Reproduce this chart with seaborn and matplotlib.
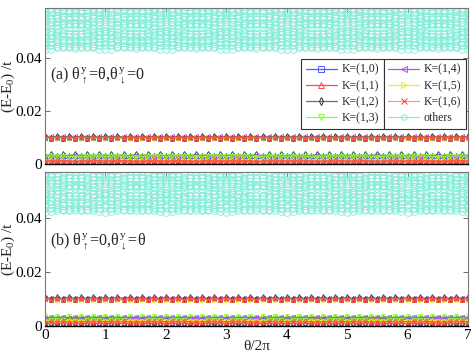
import numpy as np
import matplotlib
matplotlib.use("Agg")
import matplotlib.pyplot as plt
import seaborn as sns
from matplotlib.lines import Line2D

# ── 1. Data (energies in units of 1e-3 t, one flux period, θ/2π = 0.0 .. 0.9) ──
n_periods = 7
theta_step = 0.1

# panel (a): "others" band
a_o1 = [43.4, 43.6, 44.0, 44.3, 44.6, 44.7, 44.6, 44.3, 44.0, 43.6]
a_o2 = [45.2, 45.0, 44.7, 44.4, 44.1, 43.9, 44.1, 44.4, 44.7, 45.0]
a_o3 = [46.0, 46.2, 46.5, 46.8, 47.0, 47.1, 47.0, 46.8, 46.5, 46.2]
a_o4 = [47.6, 47.4, 47.2, 46.9, 46.6, 46.5, 46.6, 46.9, 47.2, 47.4]
a_o5 = [48.5, 48.6, 48.8, 49.0, 49.1, 49.2, 49.1, 49.0, 48.8, 48.6]
a_o6 = [50.3, 50.0, 49.6, 49.3, 49.1, 49.0, 49.1, 49.3, 49.6, 50.0]
a_o7 = [50.3, 50.6, 51.0, 51.4, 51.7, 51.8, 51.7, 51.4, 51.0, 50.6]
a_o8 = [52.3, 52.4, 52.6, 52.8, 52.9, 53.0, 52.9, 52.8, 52.6, 52.4]
a_o9 = [54.0, 53.8, 53.6, 53.4, 53.3, 53.2, 53.3, 53.4, 53.6, 53.8]
a_o10 = [54.6, 54.8, 55.1, 55.4, 55.6, 55.7, 55.6, 55.4, 55.1, 54.8]
a_o11 = [56.5, 56.3, 56.0, 55.8, 55.6, 55.5, 55.6, 55.8, 56.0, 56.3]
a_o12 = [57.2, 57.4, 57.7, 58.0, 58.2, 58.3, 58.2, 58.0, 57.7, 57.4]
a_o13 = [58.8, 58.6, 58.4, 58.1, 57.9, 57.8, 57.9, 58.1, 58.4, 58.6]

# panel (b): "others" band
b_o1 = [42.2, 42.4, 42.8, 43.1, 43.4, 43.5, 43.4, 43.1, 42.8, 42.4]
b_o2 = [44.0, 43.8, 43.5, 43.2, 42.9, 42.8, 42.9, 43.2, 43.5, 43.8]
b_o3 = [44.8, 45.0, 45.3, 45.6, 45.8, 45.9, 45.8, 45.6, 45.3, 45.0]
b_o4 = [46.5, 46.3, 46.0, 45.7, 45.5, 45.4, 45.5, 45.7, 46.0, 46.3]
b_o5 = [47.3, 47.4, 47.6, 47.8, 48.0, 48.1, 48.0, 47.8, 47.6, 47.4]
b_o6 = [49.4, 49.1, 48.7, 48.4, 48.2, 48.1, 48.2, 48.4, 48.7, 49.1]
b_o7 = [49.4, 49.7, 50.1, 50.5, 50.8, 50.9, 50.8, 50.5, 50.1, 49.7]
b_o8 = [51.3, 51.4, 51.6, 51.8, 51.9, 52.0, 51.9, 51.8, 51.6, 51.4]
b_o9 = [53.0, 52.8, 52.6, 52.4, 52.3, 52.2, 52.3, 52.4, 52.6, 52.8]
b_o10 = [53.6, 53.8, 54.1, 54.4, 54.6, 54.7, 54.6, 54.4, 54.1, 53.8]
b_o11 = [55.5, 55.3, 55.0, 54.8, 54.6, 54.5, 54.6, 54.8, 55.0, 55.3]
b_o12 = [56.2, 56.4, 56.7, 57.0, 57.2, 57.3, 57.2, 57.0, 56.7, 56.4]

# panel (a): low-lying K states (upper line near 0.01, two lines near 0)
a_k10_hi = [9.8, 9.5, 9.8, 9.5, 9.8, 9.5, 9.8, 9.5, 9.8, 9.5]
a_k10_lo1 = [0.8, 0.9, 1.0, 1.0, 0.9, 0.8, 0.9, 1.0, 1.0, 0.9]
a_k10_lo2 = [2.0, 1.9, 1.9, 2.0, 2.1, 2.1, 2.0, 1.9, 1.9, 2.0]
a_k11_hi = [10.3, 9.9, 10.3, 9.9, 10.3, 9.9, 10.3, 9.9, 10.3, 9.9]
a_k11_lo1 = [2.6, 2.9, 2.6, 2.9, 2.6, 2.9, 2.6, 2.9, 2.6, 2.9]
a_k11_lo2 = [1.2, 1.3, 1.4, 1.3, 1.2, 1.1, 1.2, 1.3, 1.4, 1.3]
a_k12_hi = [10.6, 10.0, 10.6, 10.0, 10.6, 10.0, 10.6, 10.0, 10.6, 10.0]
a_k12_lo1 = [3.2, 3.6, 3.2, 3.6, 3.2, 3.6, 3.2, 3.6, 3.2, 3.6]
a_k12_lo2 = [0.4, 0.6, 0.4, 0.6, 0.4, 0.6, 0.4, 0.6, 0.4, 0.6]
a_k13_hi = [9.4, 9.7, 9.4, 9.7, 9.4, 9.7, 9.4, 9.7, 9.4, 9.7]
a_k13_lo1 = [1.6, 1.5, 1.5, 1.6, 1.7, 1.7, 1.6, 1.5, 1.5, 1.6]
a_k13_lo2 = [2.9, 3.0, 3.1, 3.0, 2.9, 2.8, 2.9, 3.0, 3.1, 3.0]
a_k14_hi = [10.2, 10.4, 10.2, 10.4, 10.2, 10.4, 10.2, 10.4, 10.2, 10.4]
a_k14_lo1 = [1.0, 1.2, 1.0, 1.2, 1.0, 1.2, 1.0, 1.2, 1.0, 1.2]
a_k14_lo2 = [3.0, 3.3, 3.0, 3.3, 3.0, 3.3, 3.0, 3.3, 3.0, 3.3]
a_k15_hi = [9.8, 10.1, 9.8, 10.1, 9.8, 10.1, 9.8, 10.1, 9.8, 10.1]
a_k15_lo1 = [2.2, 2.4, 2.2, 2.4, 2.2, 2.4, 2.2, 2.4, 2.2, 2.4]
a_k15_lo2 = [1.5, 1.4, 1.4, 1.5, 1.6, 1.6, 1.5, 1.4, 1.4, 1.5]
a_k16_hi = [10.0, 9.7, 10.0, 9.7, 10.0, 9.7, 10.0, 9.7, 10.0, 9.7]
a_k16_lo1 = [2.8, 2.6, 2.8, 2.6, 2.8, 2.6, 2.8, 2.6, 2.8, 2.6]
a_k16_lo2 = [0.6, 0.8, 0.6, 0.8, 0.6, 0.8, 0.6, 0.8, 0.6, 0.8]

# panel (b): low-lying K states
b_k10_hi = [9.9, 9.6, 9.9, 9.6, 9.9, 9.6, 9.9, 9.6, 9.9, 9.6]
b_k10_lo1 = [1.0, 1.2, 1.0, 1.2, 1.0, 1.2, 1.0, 1.2, 1.0, 1.2]
b_k10_lo2 = [2.4, 2.3, 2.3, 2.4, 2.5, 2.5, 2.4, 2.3, 2.3, 2.4]
b_k11_hi = [10.2, 9.8, 10.2, 9.8, 10.2, 9.8, 10.2, 9.8, 10.2, 9.8]
b_k11_lo1 = [3.3, 3.0, 3.3, 3.0, 3.3, 3.0, 3.3, 3.0, 3.3, 3.0]
b_k11_lo2 = [1.6, 1.7, 1.8, 1.7, 1.6, 1.5, 1.6, 1.7, 1.8, 1.7]
b_k12_hi = [10.7, 10.1, 10.7, 10.1, 10.7, 10.1, 10.7, 10.1, 10.7, 10.1]
b_k12_lo1 = [2.6, 2.9, 2.6, 2.9, 2.6, 2.9, 2.6, 2.9, 2.6, 2.9]
b_k12_lo2 = [0.7, 0.9, 0.7, 0.9, 0.7, 0.9, 0.7, 0.9, 0.7, 0.9]
b_k13_hi = [9.5, 9.8, 9.5, 9.8, 9.5, 9.8, 9.5, 9.8, 9.5, 9.8]
b_k13_lo1 = [3.6, 3.4, 3.6, 3.4, 3.6, 3.4, 3.6, 3.4, 3.6, 3.4]
b_k13_lo2 = [2.0, 2.1, 2.2, 2.1, 2.0, 1.9, 2.0, 2.1, 2.2, 2.1]
b_k14_hi = [10.3, 10.5, 10.3, 10.5, 10.3, 10.5, 10.3, 10.5, 10.3, 10.5]
b_k14_lo1 = [1.3, 1.5, 1.3, 1.5, 1.3, 1.5, 1.3, 1.5, 1.3, 1.5]
b_k14_lo2 = [3.1, 3.3, 3.1, 3.3, 3.1, 3.3, 3.1, 3.3, 3.1, 3.3]
b_k15_hi = [9.8, 10.1, 9.8, 10.1, 9.8, 10.1, 9.8, 10.1, 9.8, 10.1]
b_k15_lo1 = [2.7, 2.5, 2.7, 2.5, 2.7, 2.5, 2.7, 2.5, 2.7, 2.5]
b_k15_lo2 = [1.9, 1.8, 1.8, 1.9, 2.0, 2.0, 1.9, 1.8, 1.8, 1.9]
b_k16_hi = [10.0, 9.7, 10.0, 9.7, 10.0, 9.7, 10.0, 9.7, 10.0, 9.7]
b_k16_lo1 = [3.1, 2.8, 3.1, 2.8, 3.1, 2.8, 3.1, 2.8, 3.1, 2.8]
b_k16_lo2 = [1.2, 1.4, 1.2, 1.4, 1.2, 1.4, 1.2, 1.4, 1.2, 1.4]

k_labels = ["K=(1,0)", "K=(1,1)", "K=(1,2)", "K=(1,3)",
            "K=(1,4)", "K=(1,5)", "K=(1,6)", "others"]
panel_a_text = r"(a) $θ^{y}_{\uparrow}$=θ,$θ^{y}_{\downarrow}$=0"
panel_b_text = r"(b) $θ^{y}_{\uparrow}$=0,$θ^{y}_{\downarrow}$=θ"

# ── 2. Styles ─────────────────────────────────────────────────────────
k_styles = {
    "K=(1,0)": dict(color="#4a5cff", marker="s", mec="#4a5cff"),
    "K=(1,1)": dict(color="#ff4a4a", marker="^", mec="#ff4a4a"),
    "K=(1,2)": dict(color="#6e6e6e", marker="d", mec="#303030"),
    "K=(1,3)": dict(color="#86ff3c", marker="v", mec="#86ff3c"),
    "K=(1,4)": dict(color="#b84cff", marker="<", mec="#b84cff"),
    "K=(1,5)": dict(color="#f2f200", marker=">", mec="#f2f200"),
    "K=(1,6)": dict(color="#ff9a80", marker="x", mec="#ff4020"),
    "others": dict(color="#84ecd8", marker="o", mec="#84ecd8"),
}

sns.set_style("ticks")
plt.rcParams["font.family"] = ["Liberation Serif", "DejaVu Serif"]
plt.rcParams["mathtext.fontset"] = "custom"
plt.rcParams["mathtext.rm"] = "Liberation Serif"
plt.rcParams["mathtext.it"] = "Liberation Serif"
plt.rcParams["mathtext.bf"] = "Liberation Serif:bold"

theta = np.arange(n_periods * 10 + 1) * theta_step


def full_series(vals):
    v = np.asarray(vals) * 1e-3
    return np.append(np.tile(v, n_periods), v[0])


def draw(ax, vals, key, ms=3.0, lw=0.6):
    st = k_styles[key]
    sns.lineplot(x=theta, y=full_series(vals), ax=ax, estimator=None,
                 errorbar=None, sort=False, color=st["color"], lw=lw,
                 marker=st["marker"], markersize=ms, markerfacecolor="none",
                 markeredgecolor=st["mec"], markeredgewidth=0.6,
                 clip_on=True)


fig = plt.figure(figsize=(4.71, 3.6), dpi=100)
ax_a = fig.add_axes([0.0955, 0.5444, 0.898, 0.4334])
ax_b = fig.add_axes([0.0955, 0.0944, 0.898, 0.4278])

others_a = [a_o1, a_o2, a_o3, a_o4, a_o5, a_o6, a_o7, a_o8, a_o9, a_o10,
            a_o11, a_o12, a_o13]
others_b = [b_o1, b_o2, b_o3, b_o4, b_o5, b_o6, b_o7, b_o8, b_o9, b_o10,
            b_o11, b_o12]
# upper (~0.01) lines: red drawn last; lower lines: mixed order
hi_a = [("K=(1,0)", a_k10_hi), ("K=(1,3)", a_k13_hi), ("K=(1,4)", a_k14_hi),
        ("K=(1,5)", a_k15_hi), ("K=(1,2)", a_k12_hi), ("K=(1,6)", a_k16_hi),
        ("K=(1,1)", a_k11_hi)]
lo_a = [("K=(1,1)", a_k11_lo1), ("K=(1,6)", a_k16_lo1), ("K=(1,2)", a_k12_lo1),
        ("K=(1,5)", a_k15_lo1), ("K=(1,4)", a_k14_lo1), ("K=(1,0)", a_k10_lo1),
        ("K=(1,3)", a_k13_lo1), ("K=(1,2)", a_k12_lo2), ("K=(1,0)", a_k10_lo2),
        ("K=(1,4)", a_k14_lo2), ("K=(1,3)", a_k13_lo2), ("K=(1,5)", a_k15_lo2),
        ("K=(1,6)", a_k16_lo2), ("K=(1,1)", a_k11_lo2)]
hi_b = [("K=(1,0)", b_k10_hi), ("K=(1,3)", b_k13_hi), ("K=(1,4)", b_k14_hi),
        ("K=(1,5)", b_k15_hi), ("K=(1,2)", b_k12_hi), ("K=(1,6)", b_k16_hi),
        ("K=(1,1)", b_k11_hi)]
lo_b = [("K=(1,1)", b_k11_lo1), ("K=(1,6)", b_k16_lo1), ("K=(1,2)", b_k12_lo1),
        ("K=(1,5)", b_k15_lo1), ("K=(1,4)", b_k14_lo1), ("K=(1,0)", b_k10_lo1),
        ("K=(1,3)", b_k13_lo1), ("K=(1,2)", b_k12_lo2), ("K=(1,0)", b_k10_lo2),
        ("K=(1,4)", b_k14_lo2), ("K=(1,3)", b_k13_lo2), ("K=(1,5)", b_k15_lo2),
        ("K=(1,6)", b_k16_lo2), ("K=(1,1)", b_k11_lo2)]

for ax, others, low, ymax, label in [(ax_a, others_a, hi_a + lo_a, 0.0589, panel_a_text),
                                     (ax_b, others_b, hi_b + lo_b, 0.0570, panel_b_text)]:
    for vals in others:
        draw(ax, vals, "others", ms=5.5, lw=0.5)
    for key, vals in low:
        draw(ax, vals, key)
    ax.set_xlim(0, 7)
    ax.set_ylim(0, ymax)
    ax.set_xticks(range(8))
    ax.set_yticks([0, 0.02, 0.04])
    ax.set_yticklabels(["0", "0.02", "0.04"])
    ax.tick_params(direction="in", length=3.5, width=0.6, top=True, right=True,
                   labelsize=11, pad=2, colors="#555555", labelcolor="black")
    for side in ["left", "right", "top"]:
        ax.spines[side].set_color("#777777")
        ax.spines[side].set_linewidth(0.8)
    ax.spines["bottom"].set_color("black")
    ax.spines["bottom"].set_linewidth(1.0)
    ax.set_ylabel(r"(E-E$_0$) /t", fontsize=11)
    ax.yaxis.set_label_coords(-0.066, 0.5)
    ax.text(0.012, 0.56 if ax is ax_a else 0.54, label, transform=ax.transAxes,
            fontsize=11.5, va="center", ha="left")
    ax.set_xlabel("")

ax_a.set_xticklabels([])
ax_b.set_xticklabels([str(i) for i in range(8)])
ax_b.set_xlabel("θ/2π", fontsize=11, labelpad=-1)

# ── 3. Legend (two boxed columns) ────────────────────────────────────
def handle(key):
    st = k_styles[key]
    return Line2D([], [], color=st["color"], lw=0.9, marker=st["marker"],
                  markersize=4, markerfacecolor="none",
                  markeredgecolor=st["mec"], markeredgewidth=0.7)


leg_kw = dict(fontsize=8.5, frameon=True, fancybox=False, framealpha=1,
              edgecolor="#333333", borderaxespad=0, handlelength=2.6,
              handletextpad=0.4, labelspacing=0.35, borderpad=0.4)
leg1 = ax_a.legend([handle(k) for k in k_labels[:4]], k_labels[:4],
                   loc="upper right", bbox_to_anchor=(0.801, 0.673), **leg_kw)
leg1.get_frame().set_linewidth(0.8)
ax_a.add_artist(leg1)
leg2 = ax_a.legend([handle(k) for k in k_labels[4:]], k_labels[4:],
                   loc="upper left", bbox_to_anchor=(0.801, 0.673), **leg_kw)
leg2.get_frame().set_linewidth(0.8)

fig.savefig("out.png", dpi=100)
